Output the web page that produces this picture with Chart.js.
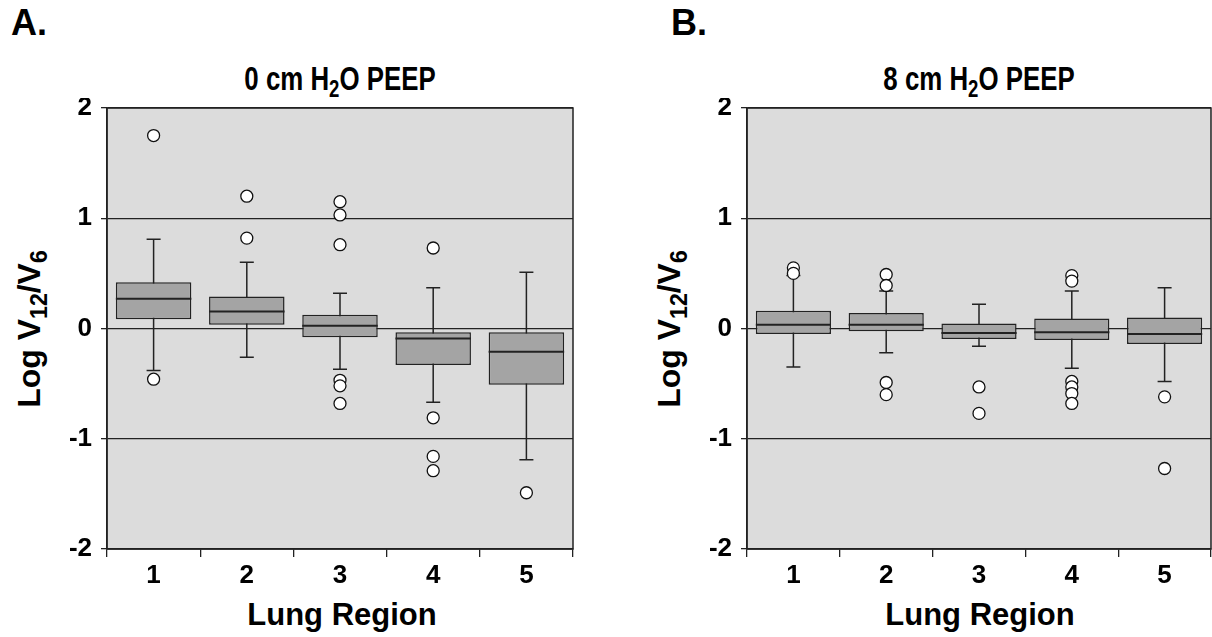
<!DOCTYPE html>
<html>
<head>
<meta charset="utf-8">
<script src="https://cdn.jsdelivr.net/npm/chart.js@4.4.0/dist/chart.umd.min.js"></script>
<style>
    body { margin: 0; width: 1212px; height: 637px; background: #fff; position: relative; overflow: hidden;
           font-family: "Liberation Sans", Arial, sans-serif; font-weight: bold; color: #000; }
    .lbl { position: absolute; white-space: nowrap; transform: translate(-50%, -50%); }
    .narrow { transform: translate(-50%, -50%) scaleX(0.76); }
    .rot { transform: translate(-50%, -50%) rotate(-90deg); }
    .panel { position: absolute; }
    sub { font-size: 0.72em; vertical-align: -0.32em; line-height: 0; }
</style>
</head>
<body>
<div class="lbl" style="left:29px;top:23px;font-size:36px;">A.</div>
<div class="lbl narrow" style="left:340px;top:78px;font-size:34px;">0 cm H<sub>2</sub>O PEEP</div>
<div class="lbl rot" style="left:29px;top:329px;font-size:32px;">Log V<sub>12</sub>/V<sub>6</sub></div>
<div class="lbl" style="left:342px;top:615px;font-size:31px;">Lung Region</div>

<div class="lbl" style="left:689px;top:23px;font-size:36px;">B.</div>
<div class="lbl narrow" style="left:979px;top:78px;font-size:34px;">8 cm H<sub>2</sub>O PEEP</div>
<div class="lbl rot" style="left:669px;top:329px;font-size:32px;">Log V<sub>12</sub>/V<sub>6</sub></div>
<div class="lbl" style="left:980px;top:615px;font-size:31px;">Lung Region</div>

<div class="panel" style="left:47px;top:98px;width:536px;height:491px;"><canvas id="chartA"></canvas></div>
<div class="panel" style="left:687px;top:98px;width:534px;height:491px;"><canvas id="chartB"></canvas></div>

<script>
    var regions = ['1', '2', '3', '4', '5'];

    // A. 0 cm H2O PEEP
    var aWhiskerLow = [-0.38, -0.26, -0.37, -0.67, -1.19];
    var aQ1 = [0.085, 0.035, -0.08, -0.33, -0.51];
    var aMedian = [0.27, 0.155, 0.025, -0.09, -0.21];
    var aQ3 = [0.42, 0.29, 0.125, -0.035, -0.035];
    var aWhiskerHigh = [0.81, 0.60, 0.32, 0.37, 0.51];
    var aOutliers = [
        [1.75, -0.46],
        [1.20, 0.82],
        [1.15, 1.03, 0.76, -0.47, -0.52, -0.68],
        [0.73, -0.81, -1.16, -1.29],
        [-1.49]
    ];

    // B. 8 cm H2O PEEP
    var bWhiskerLow = [-0.35, -0.22, -0.16, -0.36, -0.48];
    var bQ1 = [-0.05, -0.025, -0.095, -0.105, -0.14];
    var bMedian = [0.035, 0.035, -0.04, -0.035, -0.05];
    var bQ3 = [0.16, 0.14, 0.045, 0.09, 0.10];
    var bWhiskerHigh = [0.48, 0.34, 0.22, 0.34, 0.37];
    var bOutliers = [
        [0.55, 0.50],
        [0.49, 0.39, -0.49, -0.60],
        [-0.53, -0.77],
        [0.48, 0.43, -0.48, -0.53, -0.59, -0.68],
        [-0.62, -1.27]
    ];

    var yMin = -2, yMax = 2, yStep = 1;

    var ink = '#222';
    Chart.defaults.font.family = '"Liberation Sans", Arial, sans-serif';
    Chart.defaults.font.weight = 'bold';
    Chart.defaults.color = '#000';

    // grey plot background and the frame round it
    var framePlugin = {
        id: 'frame',
        beforeDraw: function (chart) {
            var a = chart.chartArea, ctx = chart.ctx;
            ctx.save();
            ctx.fillStyle = '#dcdcdc';
            ctx.fillRect(a.left, a.top, a.right - a.left, a.bottom - a.top);
            ctx.restore();
        },
        afterDraw: function (chart) {
            var a = chart.chartArea, ctx = chart.ctx;
            ctx.save();
            ctx.strokeStyle = ink;
            ctx.lineWidth = 1.5;
            ctx.strokeRect(a.left, a.top, a.right - a.left, a.bottom - a.top);
            ctx.restore();
        }
    };

    // whiskers behind the boxes, medians on top of them
    var boxPlugin = {
        id: 'boxparts',
        beforeDatasetsDraw: function (chart) {
            var ds = chart.data.datasets[0], meta = chart.getDatasetMeta(0);
            var y = chart.scales.y, ctx = chart.ctx;
            ctx.save();
            ctx.strokeStyle = ink;
            ctx.lineWidth = 1.5;
            meta.data.forEach(function (bar, i) {
                var x = bar.x;
                var lo = y.getPixelForValue(ds.whiskerLow[i]);
                var hi = y.getPixelForValue(ds.whiskerHigh[i]);
                ctx.beginPath();
                ctx.moveTo(x, lo); ctx.lineTo(x, hi);
                ctx.moveTo(x - 7, lo); ctx.lineTo(x + 7, lo);
                ctx.moveTo(x - 7, hi); ctx.lineTo(x + 7, hi);
                ctx.stroke();
            });
            ctx.restore();
        },
        afterDatasetDraw: function (chart, args) {
            if (args.index !== 0) return;
            var ds = chart.data.datasets[0], meta = args.meta;
            var y = chart.scales.y, ctx = chart.ctx;
            ctx.save();
            ctx.strokeStyle = ink;
            ctx.lineWidth = 2;
            meta.data.forEach(function (bar, i) {
                var m = y.getPixelForValue(ds.median[i]);
                ctx.beginPath();
                ctx.moveTo(bar.x - bar.width / 2, m);
                ctx.lineTo(bar.x + bar.width / 2, m);
                ctx.stroke();
            });
            ctx.restore();
        }
    };

    function makeConfig(low, q1, med, q3, high, outliers) {
        var boxes = q1.map(function (v, i) { return [v, q3[i]]; });
        var points = [];
        outliers.forEach(function (list, i) {
            list.forEach(function (v) { points.push({ x: regions[i], y: v }); });
        });
        return {
            type: 'bar',
            data: {
                labels: regions,
                datasets: [{
                    data: boxes,
                    whiskerLow: low,
                    whiskerHigh: high,
                    median: med,
                    backgroundColor: '#a4a4a4',
                    borderColor: ink,
                    borderWidth: 1.5,
                    borderSkipped: false,
                    categoryPercentage: 1,
                    barPercentage: 0.81,
                    order: 2
                }, {
                    type: 'scatter',
                    data: points,
                    pointRadius: 6,
                    pointBackgroundColor: '#fff',
                    pointBorderColor: '#111',
                    pointBorderWidth: 1.3,
                    order: 1
                }]
            },
            options: {
                responsive: true,
                maintainAspectRatio: false,
                animation: false,
                layout: { padding: { top: 10, right: 10, bottom: 0, left: 0 } },
                plugins: { legend: { display: false }, tooltip: { enabled: false } },
                scales: {
                    x: {
                        type: 'category',
                        offset: true,
                        grid: { offset: true, drawOnChartArea: false, color: ink, lineWidth: 1.3, tickLength: 8 },
                        border: { color: ink, width: 1.5 },
                        ticks: { font: { size: 26 }, padding: 3 },
                        afterFit: function (s) { s.height = 40; s.paddingLeft = 0; s.paddingRight = 0; }
                    },
                    y: {
                        min: yMin,
                        max: yMax,
                        ticks: { stepSize: yStep, font: { size: 26 }, padding: 9 },
                        grid: { color: ink, lineWidth: 1.3, tickLength: 6 },
                        border: { color: ink, width: 1.5 },
                        afterFit: function (s) { s.width = 60; s.paddingTop = 0; s.paddingBottom = 0; }
                    }
                }
            },
            plugins: [framePlugin, boxPlugin]
        };
    }

    new Chart(document.getElementById('chartA'),
        makeConfig(aWhiskerLow, aQ1, aMedian, aQ3, aWhiskerHigh, aOutliers));
    new Chart(document.getElementById('chartB'),
        makeConfig(bWhiskerLow, bQ1, bMedian, bQ3, bWhiskerHigh, bOutliers));
</script>
</body>
</html>
